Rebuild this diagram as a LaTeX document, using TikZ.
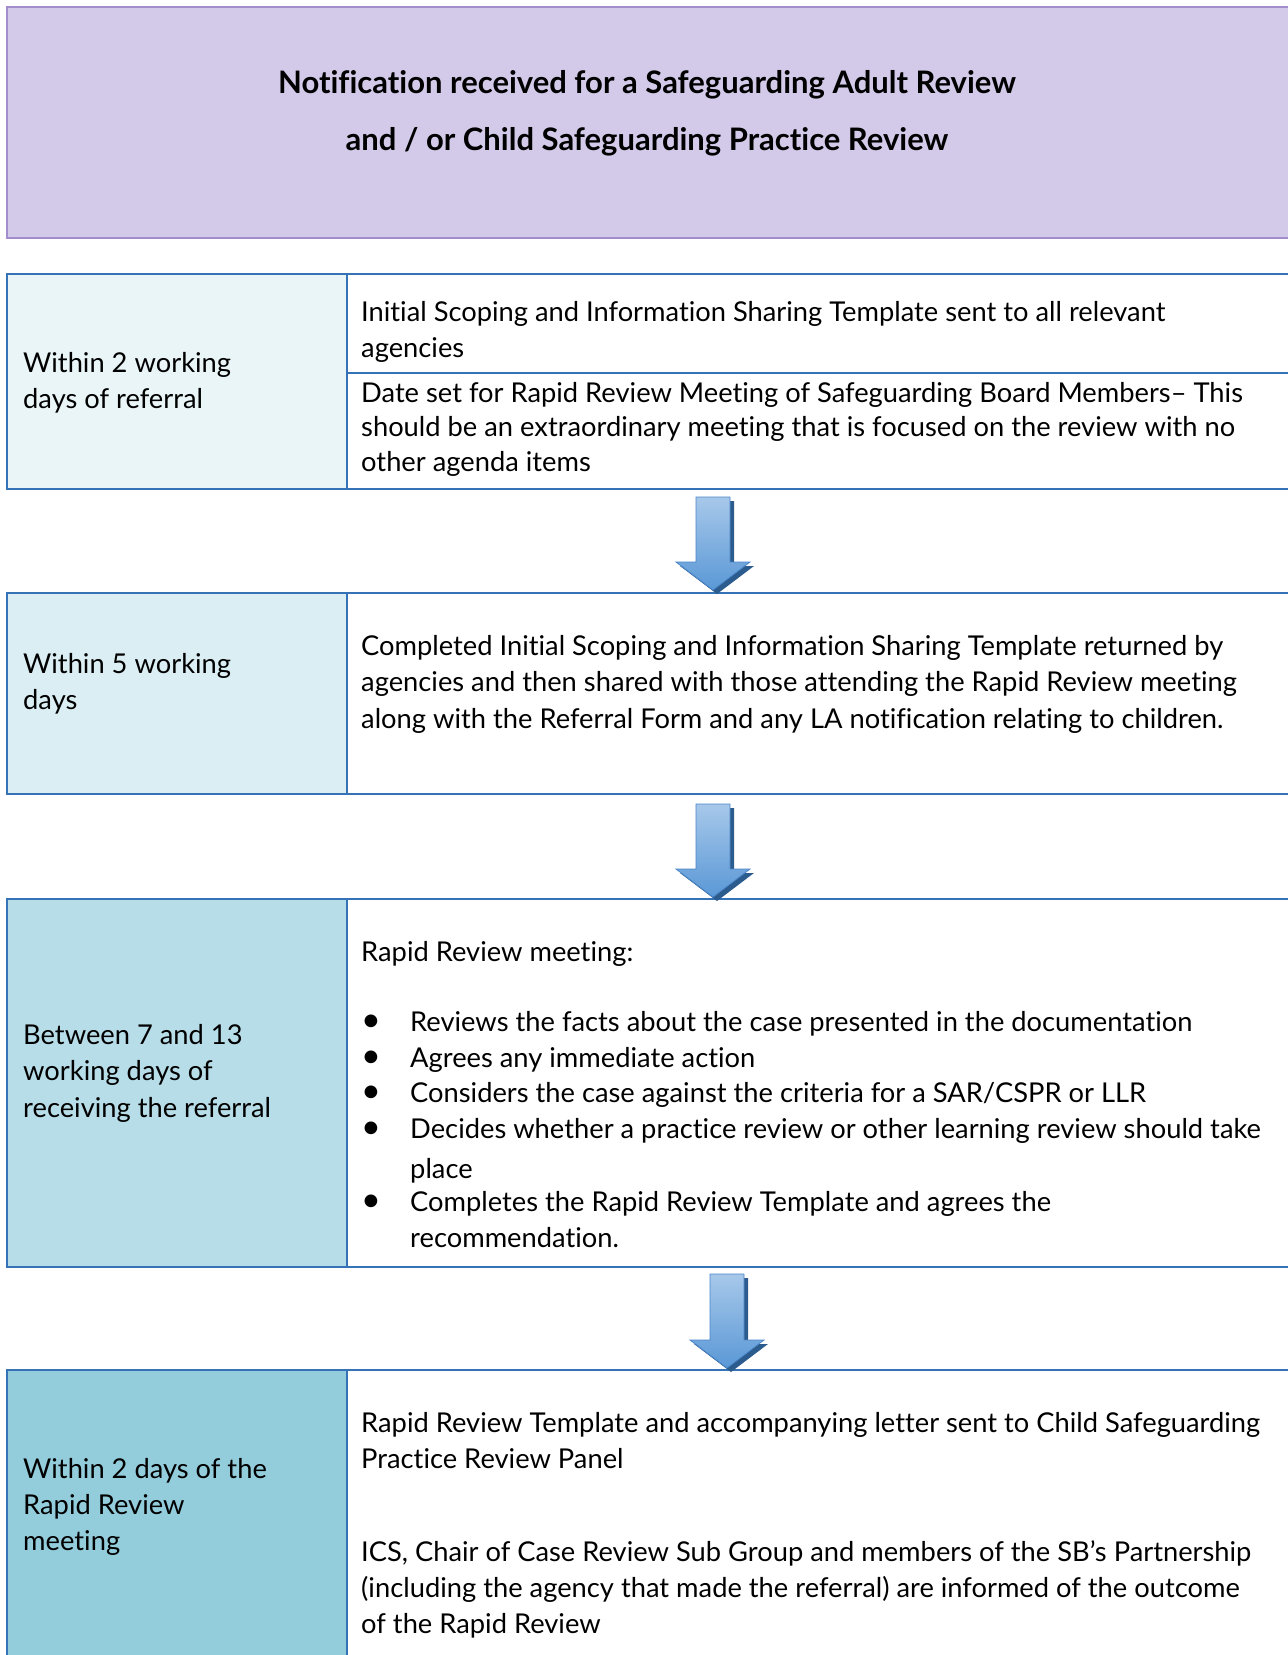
\documentclass[tikz,border=0pt]{standalone}
\usepackage{fontspec}
\setmainfont{Lato}[Ligatures={NoCommon,NoContextual}]
\usetikzlibrary{positioning}

\definecolor{hdrfill}{HTML}{D3C9E8}
\definecolor{hdrline}{HTML}{A38DCC}
\definecolor{rowline}{HTML}{3573B6}
\definecolor{cellA}{HTML}{EAF5F8}
\definecolor{cellB}{HTML}{DAEEF3}
\definecolor{cellC}{HTML}{B7DDE8}
\definecolor{cellD}{HTML}{93CDDC}
\definecolor{arrtop}{HTML}{A7C8EA}
\definecolor{arrbot}{HTML}{5A98D6}
\definecolor{arredge}{HTML}{4A86C8}
\definecolor{arrshadow}{HTML}{2C5B8E}

\newcommand\celltext{\fontsize{27.3}{35.5}\selectfont}
\newcommand\bul{\makebox[49pt][l]{\hspace*{0pt}\scalebox{1.25}{\textbullet}}}

\begin{document}
\begin{tikzpicture}[x=1pt,y=-1pt,
    cell/.style={anchor=base west,inner sep=0pt,align=left,font=\celltext},
    edge/.style={draw=rowline,line width=2pt},
]
\useasboundingbox (0,0) rectangle (1288,1655);
\clip (0,0) rectangle (1288,1655);

    % title box
    \draw[fill=hdrfill,draw=hdrline,line width=2pt] (1295,7) -- (7,7) -- (7,238) -- (1295,238);
    % (base anchor = last line)
    \node (notice) at (647,150) [anchor=base,inner sep=0pt,align=center,
        font=\fontsize{31}{57}\selectfont\bfseries]
        {Notification received for a Safeguarding Adult Review\\
         and / or Child Safeguarding Practice Review};

    % the four rows
    \foreach \t/\b/\c in {274/489/cellA,593/794/cellB,899/1267/cellC,1370/1665/cellD}{
        \fill[\c] (7,\t) rectangle (347,\b);
        \draw[edge] (1295,\t) -- (7,\t) -- (7,\b) -- (1295,\b);
        \draw[edge] (347,\t) -- (347,\b);
    }
    \draw[edge] (347,373) -- (1295,373);

    % arrows between rows
    \foreach \x/\y/\z in {713/497/590,713/804/897,727/1274/1368}{
        \coordinate (top) at (\x,\y);
        \coordinate (tip) at (\x,\z);
        \fill[arrshadow] ([shift={(21,4)}]top) -- ([shift={(21,-24)}]tip) -- ([shift={(41,-24)}]tip)
            -- ([shift={(4,4)}]tip) -- ([shift={(-33,-24)}]tip) -- ([shift={(-13,-24)}]tip)
            -- ([shift={(-13,4)}]top) -- cycle;
        \draw[arredge,line width=0.8pt,top color=arrtop,bottom color=arrbot]
            ([shift={(-17,0)}]top) -- ([shift={(17,0)}]top) -- ([shift={(17,-28)}]tip)
            -- ([shift={(37,-28)}]tip) -- (tip) -- ([shift={(-37,-28)}]tip)
            -- ([shift={(-17,-28)}]tip) -- cycle;
    }

    % row 1 (nodes sit on the baseline of their last line)
    \node (when1) at (23,408) [cell] {Within 2 working\\days of referral};
    \node (task1a) at (361,357) [cell] {Initial Scoping and Information Sharing Template sent to all relevant\\agencies};
    \node (task1b) at (361,471) [cell] {Date set for Rapid Review Meeting of Safeguarding Board Members-- This\\[-1pt]
        should be an extraordinary meeting that is focused on the review with no\\[-1pt]other agenda items};

    % row 2
    \node (when2) at (23,709) [cell] {Within 5 working\\days};
    \node (task2) at (361,728) [cell] {Completed Initial Scoping and Information Sharing Template returned by\\[1pt]
        agencies and then shared with those attending the Rapid Review meeting\\[1pt]
        along with the Referral Form and any LA notification relating to children.};

    % row 3
    \node (when3) at (23,1117) [cell] {Between 7 and 13\\[1pt]working days of\\[1pt]receiving the referral};
    \node (task3) at (361,961) [cell] {Rapid Review meeting:};
    \node (list3) at (361,1247) [cell] {\bul Reviews the facts about the case presented in the documentation\\
        \bul Agrees any immediate action\\
        \bul Considers the case against the criteria for a SAR/CSPR or LLR\\
        \bul Decides whether a practice review or other learning review should take\\[5pt]
        \hspace*{49pt}place\\[-2.5pt]
        \bul Completes the Rapid Review Template and agrees the\\
        \hspace*{49pt}recommendation.};

    % row 4
    \node (when4) at (23,1550) [cell] {Within 2 days of the\\[1pt]Rapid Review\\meeting};
    \node (task4a) at (361,1468) [cell] {Rapid Review Template and accompanying letter sent to Child Safeguarding\\Practice Review Panel};
    \node (task4b) at (361,1633) [cell] {ICS, Chair of Case Review Sub Group and members of the SB’s Partnership\\[1pt]
        (including the agency that made the referral) are informed of the outcome\\of the Rapid Review};
\end{tikzpicture}
\end{document}
